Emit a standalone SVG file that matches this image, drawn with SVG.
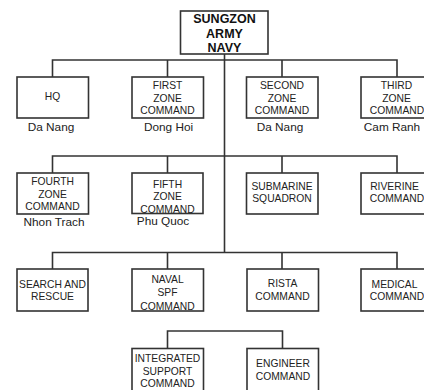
<svg xmlns="http://www.w3.org/2000/svg" width="424" height="390" viewBox="0 0 424 390">
  <style>
    .box { fill: #ffffff; stroke: #333333; stroke-width: 1.6; }
    .wire { fill: none; stroke: #333333; stroke-width: 1.6; }
    .t { font-family: "Liberation Sans", Arial, sans-serif; font-size: 10.3px; fill: #222222; text-anchor: middle; }
    .loc { font-family: "Liberation Sans", Arial, sans-serif; font-size: 11.8px; fill: #222222; text-anchor: middle; }
    .head { font-family: "Liberation Sans", Arial, sans-serif; font-size: 12.5px; font-weight: bold; fill: #111111; text-anchor: middle; }
  </style>
  <rect width="424" height="390" fill="#ffffff"/>

  <g id="connectors">
    <path class="wire" d="M224.5 54 V252.5"/>
    <path class="wire" d="M52.5 77 V60 H397 V77 M167.5 60 V77 M282 60 V77"/>
    <path class="wire" d="M52.5 173 V156 H397 V173 M167.5 156 V173 M282 156 V173"/>
    <path class="wire" d="M52.5 269 V252.5 H397 V269 M167.5 252.5 V269 M282 252.5 V269"/>
    <path class="wire" d="M167.5 348 V331 H282.5 V348"/>
  </g>

  <g id="navy">
    <rect class="box" x="180.5" y="11" width="87.5" height="43"/>
    <text class="head" x="224.5" y="23">SUNGZON</text>
    <text class="head" x="224.5" y="37.5">ARMY</text>
    <text class="head" x="224.5" y="52">NAVY</text>
  </g>

  <g id="hq">
    <rect class="box" x="17" y="77" width="71.5" height="41"/>
    <text class="t" x="52.5" y="100">HQ</text>
    <text class="loc" x="51" y="131">Da Nang</text>
  </g>
  <g id="first-zone">
    <rect class="box" x="132" y="77" width="71.5" height="41"/>
    <text class="t" x="167.5" y="89">FIRST</text>
    <text class="t" x="167.5" y="101.5">ZONE</text>
    <text class="t" x="167.5" y="114">COMMAND</text>
    <text class="loc" x="168.5" y="131">Dong Hoi</text>
  </g>
  <g id="second-zone">
    <rect class="box" x="246.5" y="77" width="71.5" height="41"/>
    <text class="t" x="282" y="89">SECOND</text>
    <text class="t" x="282" y="101.5">ZONE</text>
    <text class="t" x="282" y="114">COMMAND</text>
    <text class="loc" x="280" y="131">Da Nang</text>
  </g>
  <g id="third-zone">
    <rect class="box" x="361" y="77" width="72" height="41"/>
    <text class="t" x="396.5" y="89">THIRD</text>
    <text class="t" x="396.5" y="101.5">ZONE</text>
    <text class="t" x="397" y="114">COMMAND</text>
    <text class="loc" x="392" y="131">Cam Ranh</text>
  </g>

  <g id="fourth-zone">
    <rect class="box" x="17" y="173" width="71.5" height="41"/>
    <text class="t" x="52.5" y="185">FOURTH</text>
    <text class="t" x="52.5" y="197.5">ZONE</text>
    <text class="t" x="52.5" y="210">COMMAND</text>
    <text class="loc" x="54" y="226">Nhon Trach</text>
  </g>
  <g id="fifth-zone">
    <rect class="box" x="132" y="173" width="71" height="40.5"/>
    <text class="t" x="167.5" y="188">FIFTH</text>
    <text class="t" x="167.5" y="200">ZONE</text>
    <text class="t" x="167.5" y="212.5">COMMAND</text>
    <text class="loc" x="163" y="225">Phu Quoc</text>
  </g>
  <g id="submarine">
    <rect class="box" x="246.5" y="173" width="71.5" height="41"/>
    <text class="t" x="282" y="190">SUBMARINE</text>
    <text class="t" x="282" y="202">SQUADRON</text>
  </g>
  <g id="riverine">
    <rect class="box" x="361" y="173" width="72" height="41"/>
    <text class="t" x="394.5" y="190">RIVERINE</text>
    <text class="t" x="397" y="202">COMMAND</text>
  </g>

  <g id="search-rescue">
    <rect class="box" x="17" y="269" width="71" height="42"/>
    <text class="t" x="52.5" y="288">SEARCH AND</text>
    <text class="t" x="52.5" y="300">RESCUE</text>
  </g>
  <g id="naval-spf">
    <rect class="box" x="132" y="269" width="71.5" height="42"/>
    <text class="t" x="167.5" y="283">NAVAL</text>
    <text class="t" x="167.5" y="296">SPF</text>
    <text class="t" x="167.5" y="309.5">COMMAND</text>
  </g>
  <g id="rista">
    <rect class="box" x="247" y="269" width="71.5" height="42"/>
    <text class="t" x="282.5" y="287">RISTA</text>
    <text class="t" x="282.5" y="300">COMMAND</text>
  </g>
  <g id="medical">
    <rect class="box" x="361" y="269" width="72" height="42"/>
    <text class="t" x="394.5" y="288">MEDICAL</text>
    <text class="t" x="397" y="300">COMMAND</text>
  </g>

  <g id="integrated-support">
    <rect class="box" x="132" y="348.5" width="71.5" height="50"/>
    <text class="t" x="167.5" y="362">INTEGRATED</text>
    <text class="t" x="167.5" y="374.5">SUPPORT</text>
    <text class="t" x="167.5" y="387">COMMAND</text>
  </g>
  <g id="engineer">
    <rect class="box" x="247" y="348.5" width="71.5" height="50"/>
    <text class="t" x="283" y="367">ENGINEER</text>
    <text class="t" x="283" y="380">COMMAND</text>
  </g>
</svg>
